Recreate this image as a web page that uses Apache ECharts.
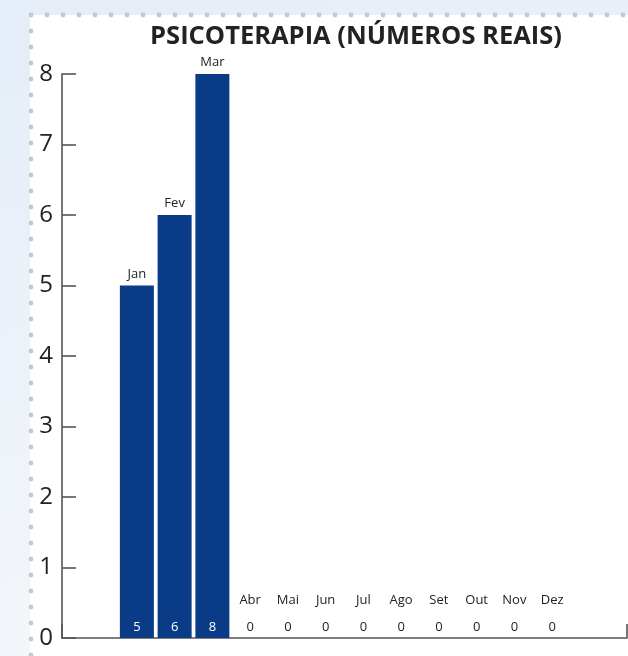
<!DOCTYPE html>
<html>
<head>
<meta charset="utf-8">
<style>
html,body{margin:0;padding:0;background:#fff;}
#chart{width:628px;height:656px;}
</style>
<script src="https://cdn.jsdelivr.net/npm/echarts@6/dist/echarts.min.js"></script>
</head>
<body>
<div id="chart"></div>
<script>
const months = ['Jan','Fev','Mar','Abr','Mai','Jun','Jul','Ago','Set','Out','Nov','Dez'];
const values = [5, 6, 8, 0, 0, 0, 0, 0, 0, 0, 0, 0];
const titleText = 'PSICOTERAPIA (NÚMEROS REAIS)';
const yMin = 0, yMax = 8, yStep = 1;

const FONT = '"Open Sans", "Noto Sans", sans-serif';
const BAR = '#0a3b87';
const AXIS = '#555';

// decorative dotted border
const dots = [];
for (let x = 31; x <= 628; x += 16) dots.push({type:'circle', shape:{cx:x, cy:15, r:2.4}, style:{fill:'#c6c8cc'}, silent:true});
for (let y = 31; y <= 656; y += 16) dots.push({type:'circle', shape:{cx:31, cy:y, r:2.4}, style:{fill:'#c6c8cc'}, silent:true});

const chart = echarts.init(document.getElementById('chart'), null, {renderer:'canvas'});
chart.setOption({
  animation: false,
  backgroundColor: {
    type:'linear', x:0, y:0, x2:0.3, y2:1,
    colorStops:[{offset:0,color:'#e4edf8'},{offset:1,color:'#f4f7fb'}]
  },
  graphic: [
    {type:'rect', z:-10, shape:{x:30, y:15, width:598, height:641}, style:{fill:'#fff'}, silent:true}
  ].concat(dots),
  title: {
    text: titleText,
    left: 351, top: 19, textAlign: 'center',
    textStyle: {fontFamily: FONT, fontWeight: 'bold', fontSize: 25.5, color: '#222'}
  },
  grid: [
    {left: 62, right: 1, top: 74, bottom: 18},
    {left: 118, right: 57, top: 74, bottom: 18}
  ],
  xAxis: [
    {gridIndex:0, type:'value', min:0, max:1, interval:1,
     axisLine:{show:true, lineStyle:{color:AXIS, width:1.6}},
     axisTick:{show:true, inside:true, length:14, lineStyle:{color:AXIS, width:1.6}},
     axisLabel:{show:false}, splitLine:{show:false}},
    {gridIndex:1, type:'category', data: months,
     axisLine:{show:false}, axisTick:{show:false}, axisLabel:{show:false}}
  ],
  yAxis: [
    {gridIndex:0, type:'value', min:yMin, max:yMax, interval:yStep,
     axisLine:{show:true, lineStyle:{color:AXIS, width:1.6}},
     axisTick:{show:true, inside:true, length:14, lineStyle:{color:AXIS, width:1.6}},
     axisLabel:{fontFamily: FONT, fontSize: 24, color:'#222', margin: 9},
     splitLine:{show:false}},
    {gridIndex:1, type:'value', min:yMin, max:yMax, show:false}
  ],
  series: [
    {
      type:'bar', xAxisIndex:1, yAxisIndex:1, barWidth:34,
      itemStyle:{color: BAR},
      data: values.map(v => ({value: v, label: {distance: v === 0 ? 31 : 5}})),
      label:{show:true, position:'top', fontFamily: FONT, fontSize:13, color:'#222',
             formatter: p => months[p.dataIndex]}
    },
    {
      type:'bar', xAxisIndex:1, yAxisIndex:1, barWidth:34, barGap:'-100%',
      itemStyle:{color:'rgba(0,0,0,0)'},
      data: values.map(v => ({value: v, label: {color: v === 0 ? '#222' : '#fff'}})),
      label:{show:true, position:'insideBottom', distance:4, fontFamily: FONT, fontSize:13,
             formatter: '{c}'}
    }
  ]
});
</script>
</body>
</html>
